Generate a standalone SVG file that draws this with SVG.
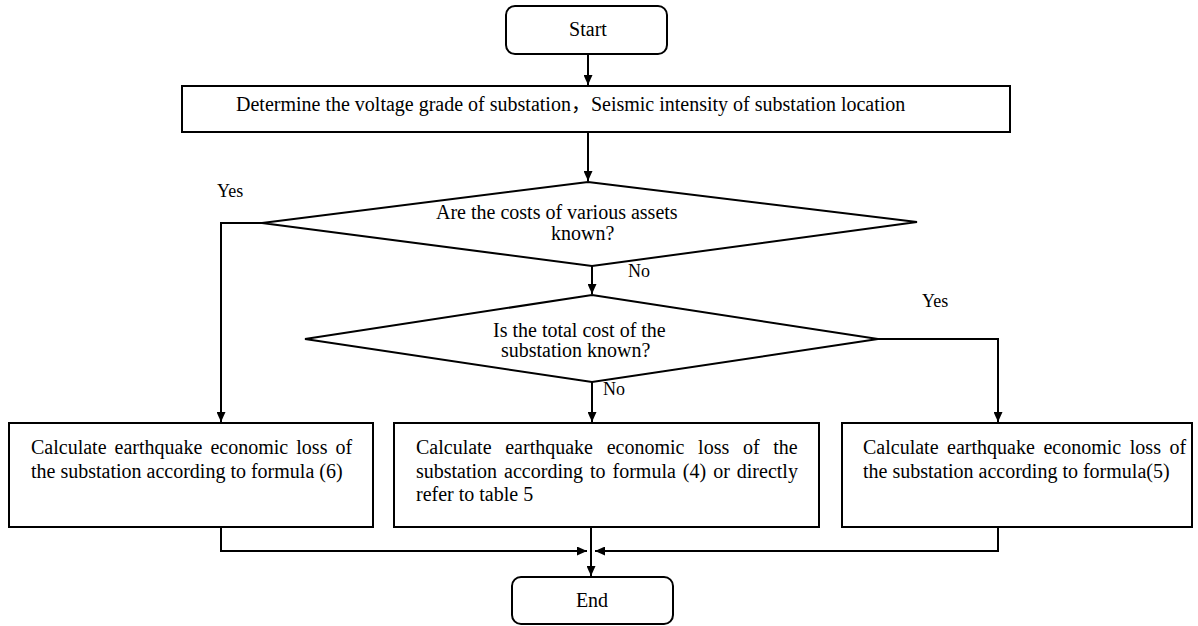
<svg xmlns="http://www.w3.org/2000/svg" width="1198" height="626" viewBox="0 0 1198 626">
<style>
.shape{fill:#fff;stroke:#000;stroke-width:2}
.line{fill:none;stroke:#000;stroke-width:2}
.t{font-family:"Liberation Serif","Noto Sans CJK SC",serif;font-size:20px;fill:#000}
.lbl{font-family:"Liberation Serif",serif;font-size:18px;fill:#000}
</style>
<defs>
<marker id="arr" viewBox="0 0 10 10" refX="10" refY="5" markerWidth="5" markerHeight="4.5" orient="auto" markerUnits="strokeWidth" preserveAspectRatio="none">
<path d="M0,0 L10,5 L0,10 z" fill="#000"/>
</marker>
</defs>
<rect width="1198" height="626" fill="#fff"/>
<g id="connectors">
<path class="line" d="M588,54 V85" marker-end="url(#arr)"/>
<path class="line" d="M588,132 V181" marker-end="url(#arr)"/>
<path class="line" d="M592,266 V294" marker-end="url(#arr)"/>
<path class="line" d="M262,223 H221 V422" marker-end="url(#arr)"/>
<path class="line" d="M592,382 V422" marker-end="url(#arr)"/>
<path class="line" d="M878,339 H998 V422" marker-end="url(#arr)"/>
<path class="line" d="M221,527 V551 H587" marker-end="url(#arr)"/>
<path class="line" d="M998,527 V551 H595" marker-end="url(#arr)"/>
<path class="line" d="M591,527 V576" marker-end="url(#arr)"/>
</g>
<g id="labels">
<text class="lbl" x="217" y="197">Yes</text>
<text class="lbl" x="628" y="277">No</text>
<text class="lbl" x="603" y="395">No</text>
<text class="lbl" x="922" y="307">Yes</text>
</g>
<g id="start">
<rect class="shape" x="506" y="6" width="161" height="48" rx="9"/>
<text class="t" x="588" y="36" text-anchor="middle">Start</text>
</g>
<g id="determine">
<rect class="shape" x="182" y="86" width="828" height="46"/>
<text class="t" x="236" y="111">Determine the voltage grade of substation，Seismic intensity of substation location</text>
</g>
<g id="decision1">
<polygon class="shape" points="588,182 917,222 592,266 262,223"/>
<text class="t" x="436" y="219">Are the costs of various assets</text>
<text class="t" x="551" y="240">known?</text>
</g>
<g id="decision2">
<polygon class="shape" points="592,295 878,339 592,382 305,339"/>
<text class="t" x="493" y="337">Is the total cost of the</text>
<text class="t" x="501" y="357">substation known?</text>
</g>
<g id="box-left">
<rect class="shape" x="9" y="423" width="364" height="104"/>
<text class="t" x="31" y="454" word-spacing="3.1">Calculate earthquake economic loss of</text>
<text class="t" x="31" y="478">the substation according to formula (6)</text>
</g>
<g id="box-center">
<rect class="shape" x="394" y="423" width="425" height="104"/>
<text class="t" x="416" y="454" word-spacing="8.7">Calculate earthquake economic loss of the</text>
<text class="t" x="416" y="478" word-spacing="2">substation according to formula (4) or directly</text>
<text class="t" x="416" y="501">refer to table 5</text>
</g>
<g id="box-right">
<rect class="shape" x="842" y="423" width="350" height="104"/>
<text class="t" x="863" y="454" word-spacing="3.6">Calculate earthquake economic loss of</text>
<text class="t" x="863" y="478">the substation according to formula(5)</text>
</g>
<g id="end">
<rect class="shape" x="512" y="577" width="161" height="47" rx="9"/>
<text class="t" x="592" y="607" text-anchor="middle">End</text>
</g>
</svg>
